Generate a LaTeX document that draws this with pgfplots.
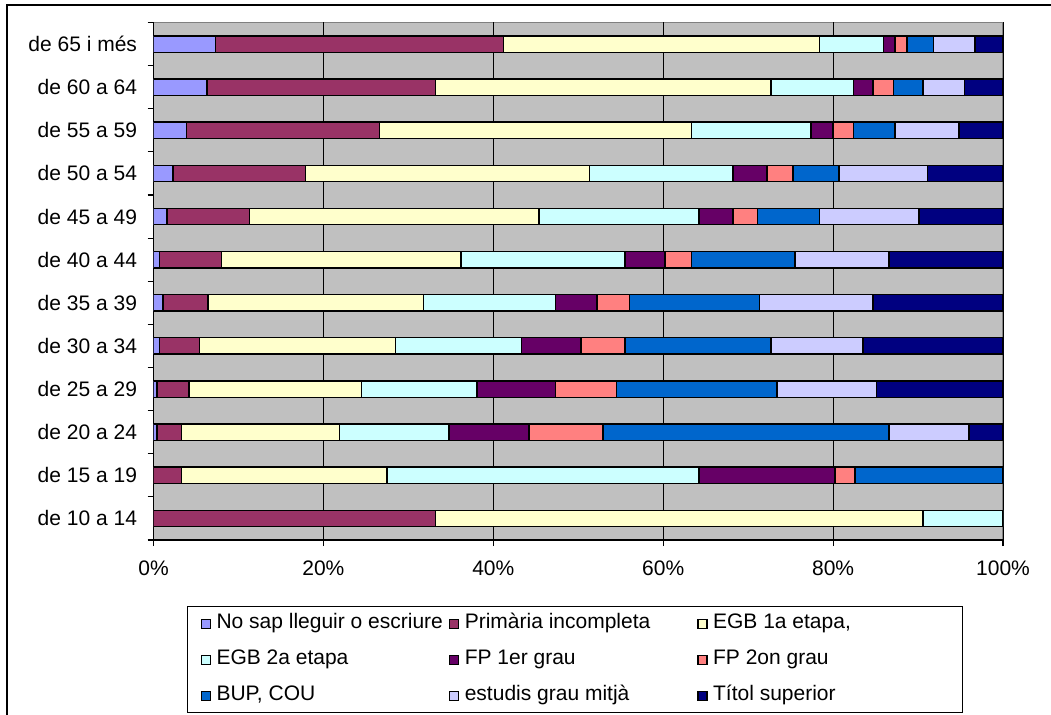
\documentclass[border=0pt]{standalone}
\usepackage{fontspec}
\setmainfont{Liberation Sans}
\usepackage{pgfplots}
\usepackage{pgfplotstable}
\pgfplotsset{compat=1.18}

\definecolor{cNoSap}{HTML}{9999FF}
\definecolor{cPrim}{HTML}{993366}
\definecolor{cEGBa}{HTML}{FFFFCC}
\definecolor{cEGBb}{HTML}{CCFFFF}
\definecolor{cFPa}{HTML}{660066}
\definecolor{cFPb}{HTML}{FF8080}
\definecolor{cBUP}{HTML}{0066CC}
\definecolor{cMig}{HTML}{CCCCFF}
\definecolor{cSup}{HTML}{000080}
\definecolor{bggray}{HTML}{C0C0C0}
\definecolor{edgegray}{HTML}{808080}

% y: 0 = de 10 a 14 ... 11 = de 65 i mes
\pgfplotstableread{
y  a    b     c     d     e     f    g     h     i
0  0    33.2  57.4  9.4   0     0    0     0     0
1  0    3.3   24.2  36.7  16.0  2.4  17.4  0     0
2  0.4  2.9   18.6  12.9  9.4   8.7  33.7  9.4   4.0
3  0.4  3.8   20.3  13.6  9.2   7.2  18.9  11.7  14.9
4  0.7  4.7   23.1  14.8  7.0   5.2  17.2  10.8  16.5
5  1.1  5.3   25.4  15.5  4.9   3.8  15.3  13.4  15.3
6  0.7  7.3   28.2  19.3  4.7   3.1  12.2  11.1  13.4
7  1.6  9.7   34.1  18.8  4.0   2.9  7.3   11.7  9.9
8  2.3  15.6  33.4  16.9  4.0   3.1  5.4   10.4  8.9
9  3.9  22.7  36.7  14.1  2.6   2.4  4.9   7.5   5.2
10 6.3  26.9  39.5  9.7   2.3   2.4  3.5   4.9   4.5
11 7.3  33.9  37.2  7.5   1.4   1.4  3.1   4.9   3.3
}\datatable

\newcommand{\chartfont}{\fontsize{21bp}{25bp}\selectfont}

\begin{document}
\begin{tikzpicture}
\useasboundingbox (0,0) rectangle (1051bp,715bp);
\draw[line width=1.3bp] (7bp,0) -- (7bp,710bp) -- (1051bp,710bp);
\begin{axis}[
  at={(153.5bp,175bp)}, anchor=south west,
  scale only axis, width=849.5bp, height=517.5bp,
  xbar stacked, bar width=0.38,
  xmin=0, xmax=100, ymin=-0.5, ymax=11.5,
  axis background/.style={fill=bggray, draw=edgegray, line width=1.5bp},
  axis x line*=bottom, axis y line*=left,
  axis line style={-, black, line width=1.3bp},
  xtick={0,20,40,60,80,100},
  xticklabels={0\%,20\%,40\%,60\%,80\%,100\%},
  xmajorgrids, grid style={black, line width=1bp},
  ytick={0,...,11},
  yticklabels={de 10 a 14,de 15 a 19,de 20 a 24,de 25 a 29,de 30 a 34,de 35 a 39,de 40 a 44,de 45 a 49,de 50 a 54,de 55 a 59,de 60 a 64,de 65 i més},
  ytick style={draw=none},
  extra y ticks={-0.5,0.5,...,11.5},
  extra y tick labels={},
  extra y tick style={ytick style={draw=black, line width=1.2bp}, grid=none},
  xtick style={black, line width=1.2bp},
  tick align=outside, major tick length=6bp,
  tick label style={font=\chartfont},
  xticklabel style={yshift=-11bp},
  yticklabel style={xshift=-7bp},
  legend image code/.code={\draw[#1, draw=black, line width=1.2bp] (0bp,-4.5bp) rectangle (9bp,4.5bp); \path (13bp,0bp);},
  legend columns=3,
  legend cell align=left,
  legend style={at={(axis description cs:0.0395,-0.1275)}, anchor=north west,
    draw=black, line width=1.3bp, font=\chartfont,
    inner xsep=13bp, inner ysep=5bp, row sep=12bp, column sep=0bp,
    nodes={text height=15bp, text depth=5bp, inner ysep=2bp, inner xsep=1.5bp}},
]
\addplot[fill=cNoSap, draw=black, line width=1.4bp] table[x=a, y=y]{\datatable};
\addplot[fill=cPrim, draw=black, line width=1.4bp] table[x=b, y=y]{\datatable};
\addplot[fill=cEGBa, draw=black, line width=1.4bp] table[x=c, y=y]{\datatable};
\addplot[fill=cEGBb, draw=black, line width=1.4bp] table[x=d, y=y]{\datatable};
\addplot[fill=cFPa, draw=black, line width=1.4bp] table[x=e, y=y]{\datatable};
\addplot[fill=cFPb, draw=black, line width=1.4bp] table[x=f, y=y]{\datatable};
\addplot[fill=cBUP, draw=black, line width=1.4bp] table[x=g, y=y]{\datatable};
\addplot[fill=cMig, draw=black, line width=1.4bp] table[x=h, y=y]{\datatable};
\addplot[fill=cSup, draw=black, line width=1.4bp] table[x=i, y=y]{\datatable};
\addlegendentry{\makebox[231bp][l]{No sap lleguir o escriure}}
\addlegendentry{\makebox[231bp][l]{Primària incompleta}}
\addlegendentry{\makebox[235bp][l]{EGB 1a etapa,}}
\addlegendentry{EGB 2a etapa}
\addlegendentry{FP 1er grau}
\addlegendentry{FP 2on grau}
\addlegendentry{BUP, COU}
\addlegendentry{estudis grau mitjà}
\addlegendentry{Títol superior}
\end{axis}
\end{tikzpicture}
\end{document}
